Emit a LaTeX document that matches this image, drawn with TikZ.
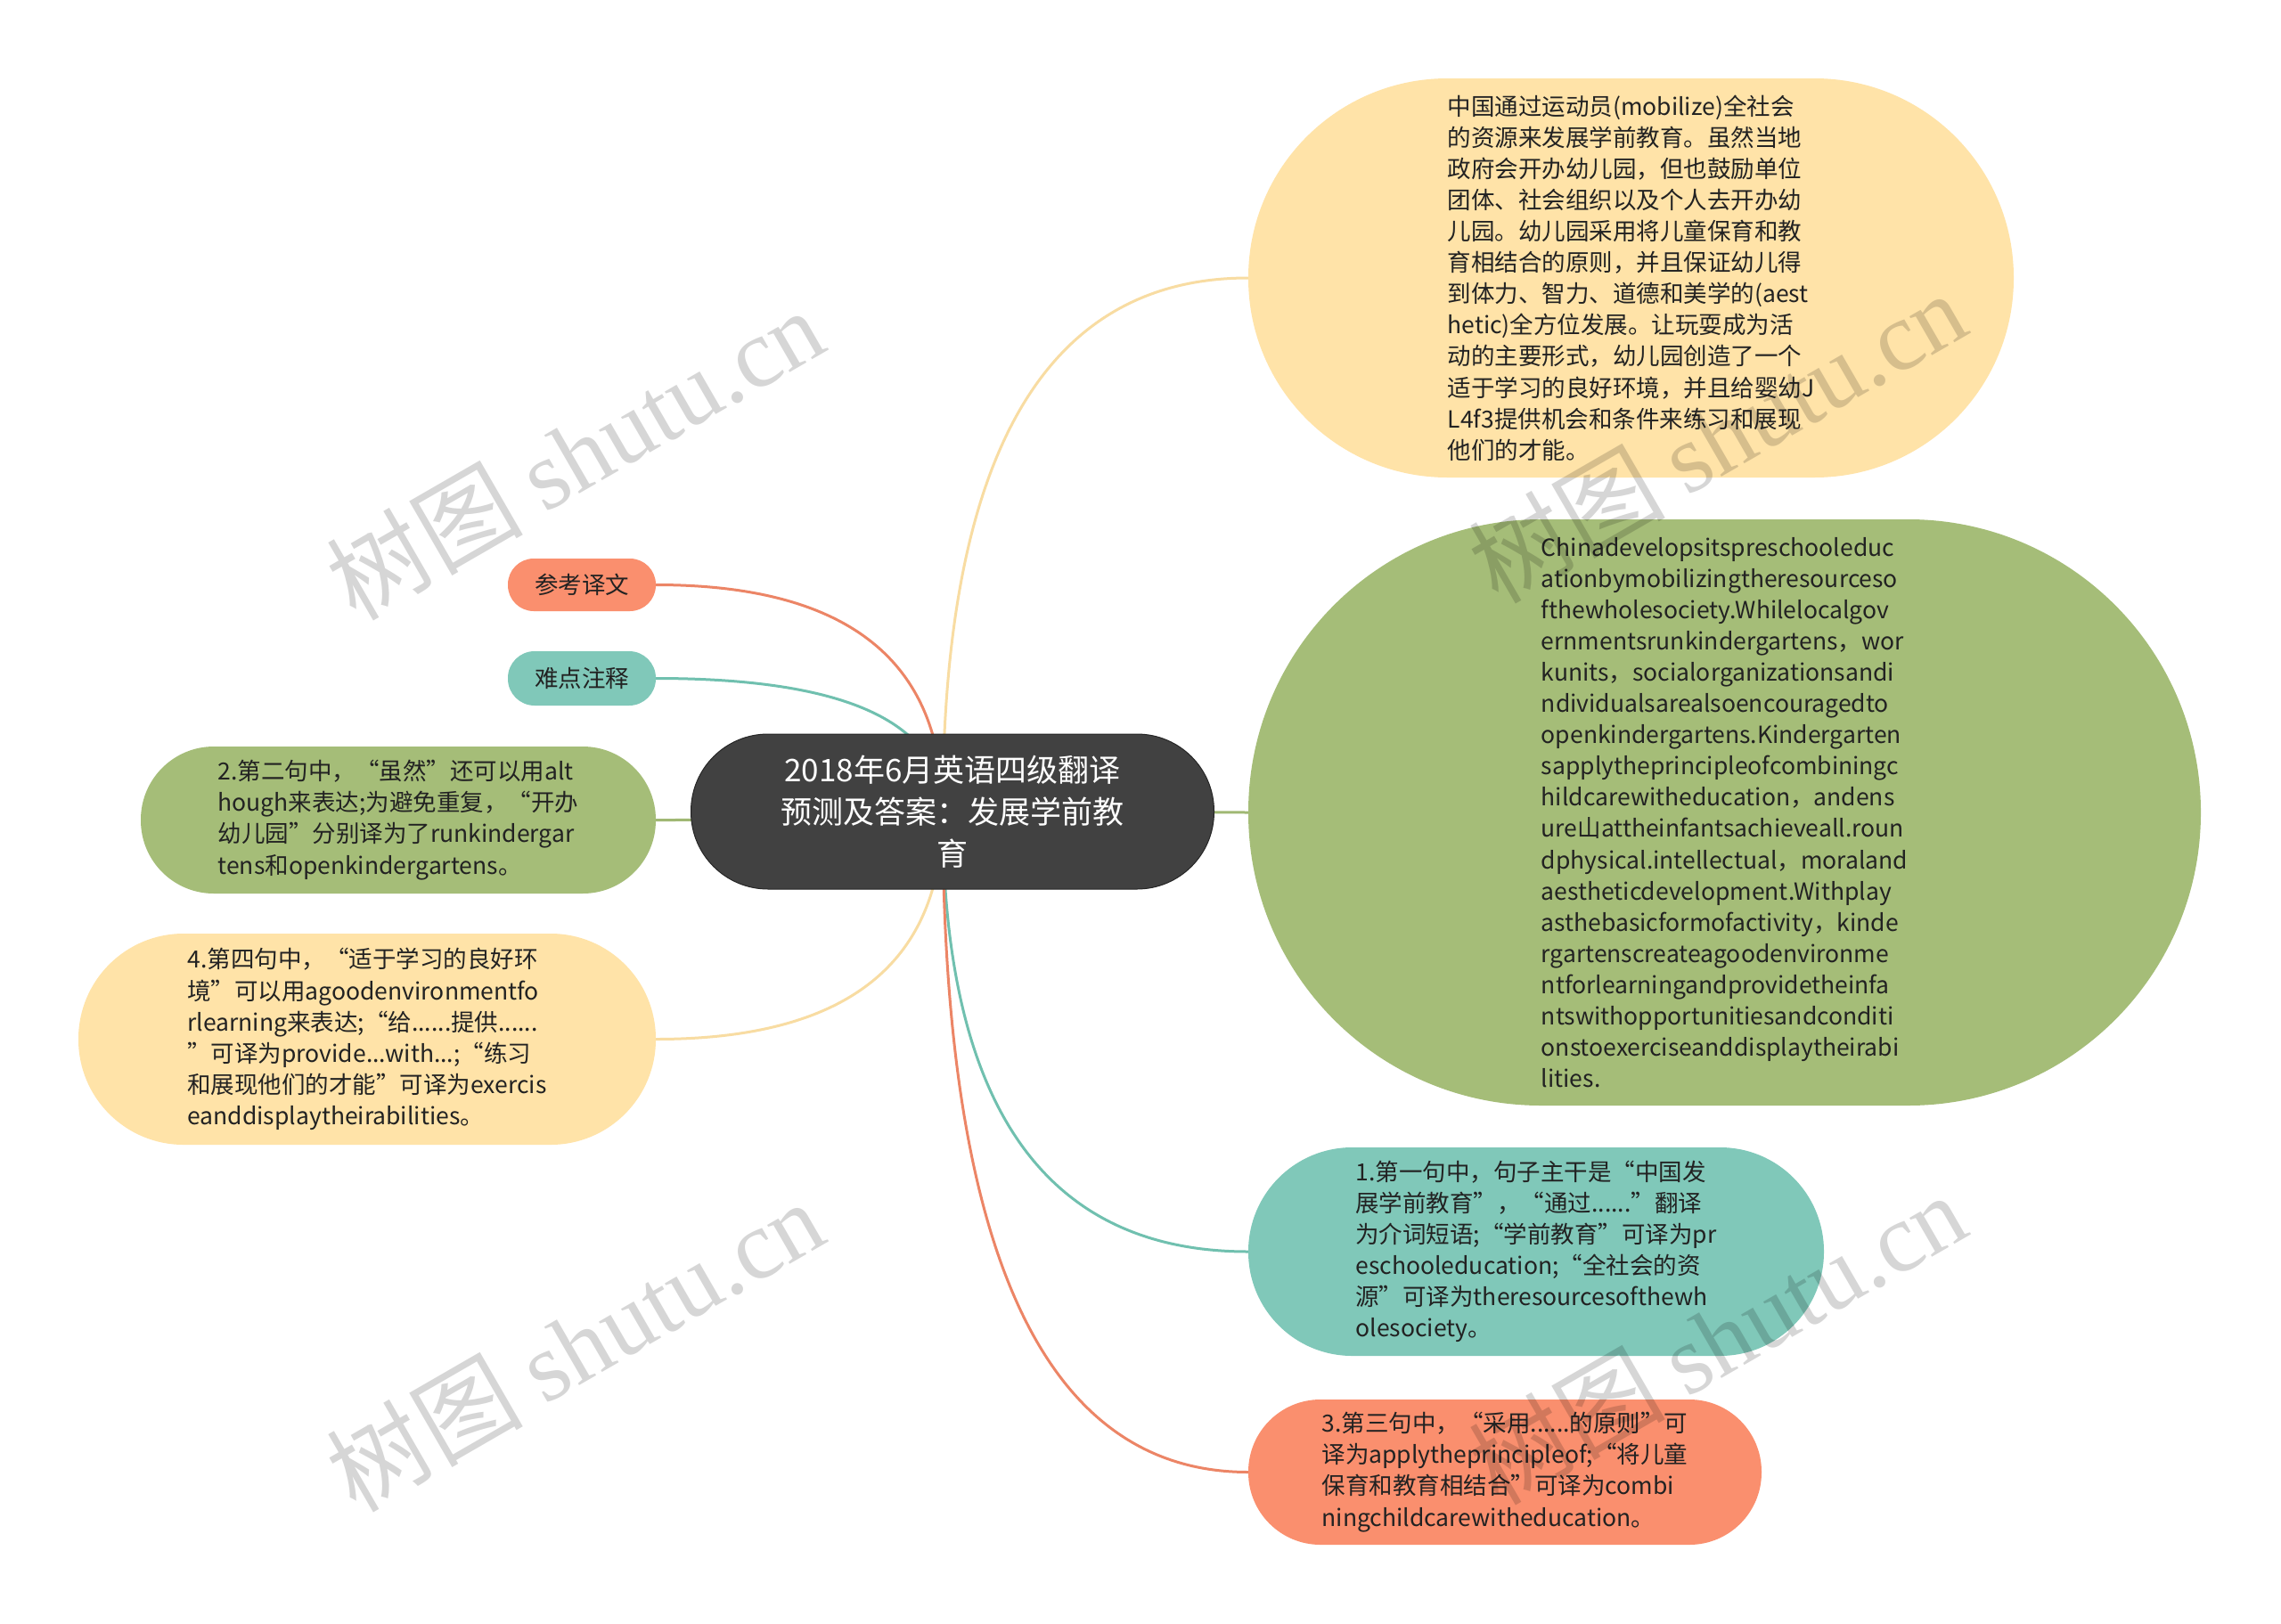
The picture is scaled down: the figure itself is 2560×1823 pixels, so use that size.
\documentclass[tikz,border=0pt]{standalone}
\usepackage{fontspec}
\setmainfont{Noto Sans CJK SC}
\newfontfamily\wmlatin{Liberation Serif}
\usetikzlibrary{calc,backgrounds}
\definecolor{rootF}{HTML}{414141}
\definecolor{yelF}{HTML}{FFE3A8}
\definecolor{yelL}{HTML}{F8DCA2}
\definecolor{grnF}{HTML}{A5BD78}
\definecolor{grnL}{HTML}{A0B874}
\definecolor{tealF}{HTML}{80C8B9}
\definecolor{tealL}{HTML}{70C0AF}
\definecolor{salF}{HTML}{FA8F6E}
\definecolor{salL}{HTML}{EC8566}
\definecolor{txt}{HTML}{222222}
\begin{document}
\begin{tikzpicture}[x=1pt,y=-1pt,
  pill/.style 2 args={minimum width=#1, minimum height=#2, rounded corners=0.5*#2-0.5pt, inner sep=0pt},
  body/.style={font=\fontsize{26.5pt}{35.1pt}\selectfont, text=txt, align=left},
  link/.style={line width=3pt},
  wm/.style={rotate=30, text=black, text opacity=0.16, font=\fontsize{110pt}{120pt}\selectfont, inner sep=0pt}]
\useasboundingbox (0,0) rectangle (2560,1823);

\node[pill={587pt}{174pt}, fill=rootF, draw=black!85, line width=1pt, text=white, align=center,
  font=\fontsize{35pt}{47pt}\selectfont] (root) at (1069,911)
  {2018年6月英语四级翻译\\预测及答案：发展学前教\\育};

\node[pill={859pt}{448pt}, fill=yelF, body] (t1) at (1830.5,312)
{中国通过运动员(mobilize)全社会\\
的资源来发展学前教育。虽然当地\\
政府会开办幼儿园，但也鼓励单位\\
团体、社会组织以及个人去开办幼\\
儿园。幼儿园采用将儿童保育和教\\
育相结合的原则，并且保证幼儿得\\
到体力、智力、道德和美学的(aest\\
hetic)全方位发展。让玩耍成为活\\
动的主要形式，幼儿园创造了一个\\
适于学习的良好环境，并且给婴幼J\\
L4f3提供机会和条件来练习和展现\\
他们的才能。};

\node[pill={1069pt}{658pt}, fill=grnF, body] (t2) at (1935.5,912)
{Chinadevelopsitspreschooleduc\\
ationbymobilizingtheresourceso\\
fthewholesociety.Whilelocalgov\\
ernmentsrunkindergartens，wor\\
kunits，socialorganizationsandi\\
ndividualsarealsoencouragedto\\
openkindergartens.Kindergarten\\
sapplytheprincipleofcombiningc\\
hildcarewitheducation，andens\\
ure山attheinfantsachieveall.roun\\
dphysical.intellectual，moraland\\
aestheticdevelopment.Withplay\\
asthebasicformofactivity，kinde\\
rgartenscreateagoodenvironme\\
ntforlearningandprovidetheinfa\\
ntswithopportunitiesandconditi\\
onstoexerciseanddisplaytheirabi\\
lities.};

\node[pill={646pt}{234pt}, fill=tealF, body] (n1) at (1724,1405)
{1.第一句中，句子主干是“中国发\\
展学前教育”，“通过......”翻译\\
为介词短语;“学前教育”可译为pr\\
eschooleducation;“全社会的资\\
源”可译为theresourcesofthewh\\
olesociety。};

\node[pill={576pt}{163pt}, fill=salF, body] (n3) at (1689,1652.5)
{3.第三句中，“采用......的原则”可\\
译为applytheprincipleof;“将儿童\\
保育和教育相结合”可译为combi\\
ningchildcarewitheducation。};

\node[pill={166pt}{59pt}, fill=salF, body] (ref) at (653,656.5) {参考译文};
\node[pill={166pt}{61pt}, fill=tealF, body] (diff) at (653,761.5) {难点注释};

\node[pill={578pt}{165pt}, fill=grnF, body] (n2) at (447,920.5)
{2.第二句中，“虽然”还可以用alt\\
hough来表达;为避免重复，“开办\\
幼儿园”分别译为了runkindergar\\
tens和openkindergartens。};

\node[pill={648pt}{237pt}, fill=yelF, body] (n4) at (412,1166.5)
{4.第四句中，“适于学习的良好环\\
境”可以用agoodenvironmentfo\\
rlearning来表达;“给......提供......\\
”可译为provide...with...;“练习\\
和展现他们的才能”可译为exercis\\
eanddisplaytheirabilities。};

\begin{pgfonlayer}{background}
\fill[white] (0,0) rectangle (2560,1823);
\coordinate (hub) at (1058,911);
\draw[link,yelL] (hub) .. controls ($(hub)!0.667!(hub |- t1.west)$) and ($(t1.west)!0.667!(hub |- t1.west)$) .. (t1.west);
\draw[link,grnL] (hub) -- (t2.west);
\draw[link,tealL] (hub) .. controls ($(hub)!0.667!(hub |- n1.west)$) and ($(n1.west)!0.667!(hub |- n1.west)$) .. (n1.west);
\draw[link,salL] (hub) .. controls ($(hub)!0.667!(hub |- n3.west)$) and ($(n3.west)!0.667!(hub |- n3.west)$) .. (n3.west);
\draw[link,salL] (hub) .. controls ($(hub)!0.667!(hub |- ref.east)$) and ($(ref.east)!0.667!(hub |- ref.east)$) .. (ref.east);
\draw[link,tealL] (hub) .. controls ($(hub)!0.667!(hub |- diff.east)$) and ($(diff.east)!0.667!(hub |- diff.east)$) .. (diff.east);
\draw[link,grnL] (hub) .. controls ($(hub)!0.667!(hub |- n2.east)$) and ($(n2.east)!0.667!(hub |- n2.east)$) .. (n2.east);
\draw[link,yelL] (hub) .. controls ($(hub)!0.667!(hub |- n4.east)$) and ($(n4.east)!0.667!(hub |- n4.east)$) .. (n4.east);
\end{pgfonlayer}

\node[wm] (wm1) at (645,509) {树图 {\wmlatin shutu.cn}};
\node[wm] (wm2) at (1927,490) {树图 {\wmlatin shutu.cn}};
\node[wm] (wm3) at (645,1510) {树图 {\wmlatin shutu.cn}};
\node[wm] (wm4) at (1927,1502) {树图 {\wmlatin shutu.cn}};
\end{tikzpicture}
\end{document}
